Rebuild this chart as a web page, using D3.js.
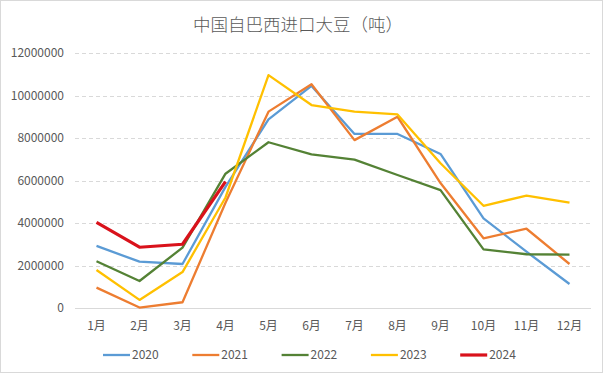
<!DOCTYPE html>
<html>
<head>
<meta charset="utf-8">
<script src="https://cdn.jsdelivr.net/npm/d3@7"></script>
<style>
  html, body { margin: 0; padding: 0; background: #fff; }
  svg { display: block; font-family: "Microsoft YaHei", "Noto Sans CJK SC", sans-serif; }
</style>
</head>
<body>
<div id="chart"></div>
<script>
// data
var months = ["1月","2月","3月","4月","5月","6月","7月","8月","9月","10月","11月","12月"];
var yTicks = [0, 2000000, 4000000, 6000000, 8000000, 10000000, 12000000];
var years = ["2020","2021","2022","2023","2024"];
var colors = ["#5b9bd5","#ed7d31","#548235","#ffc000","#d9121b"];

var v2020 = [2920000, 2180000, 2070000, 5700000, 8880000, 10450000, 8190000, 8190000, 7250000, 4220000, 2650000, 1130000];
var v2021 = [960000, 20000, 270000, 4950000, 9240000, 10530000, 7900000, 9000000, 5880000, 3280000, 3730000, 2070000];
var v2022 = [2200000, 1270000, 2840000, 6320000, 7800000, 7230000, 6980000, 6260000, 5550000, 2760000, 2530000, 2510000];
var v2023 = [1790000, 380000, 1690000, 5200000, 10960000, 9550000, 9240000, 9110000, 6810000, 4810000, 5290000, 4960000];
var v2024 = [4030000, 2860000, 3000000, 5950000];

var series = [v2020, v2021, v2022, v2023, v2024];

var width = 605, height = 374;
var margin = {top: 53, right: 14, bottom: 66, left: 75};

var svg = d3.select("#chart").append("svg")
  .attr("width", width)
  .attr("height", height);

// outer frame
svg.append("rect")
  .attr("x", 0.5).attr("y", 0.5)
  .attr("width", width - 3).attr("height", height - 2)
  .attr("fill", "#fff")
  .attr("stroke", "#d9d9d9");

svg.append("text")
  .attr("x", 298)
  .attr("y", 31)
  .attr("text-anchor", "middle")
  .attr("font-size", 17.5)
  .attr("font-weight", 300)
  .attr("fill", "#595959")
  .text("中国自巴西进口大豆（吨）");

var x = d3.scaleBand()
  .domain(months)
  .range([margin.left, width - margin.right]);

var y = d3.scaleLinear()
  .domain([0, 12000000])
  .range([height - margin.bottom, margin.top]);

// gridlines
svg.append("g")
  .selectAll("line")
  .data(yTicks.slice(1))
  .enter().append("line")
    .attr("x1", margin.left)
    .attr("x2", width - margin.right)
    .attr("y1", function(d) { return Math.round(y(d)) + 0.5; })
    .attr("y2", function(d) { return Math.round(y(d)) + 0.5; })
    .attr("stroke", "#d9d9d9")
    .attr("stroke-dasharray", "4,3");

// baseline
svg.append("line")
  .attr("x1", margin.left)
  .attr("x2", width - margin.right)
  .attr("y1", Math.round(y(0)) + 0.5)
  .attr("y2", Math.round(y(0)) + 0.5)
  .attr("stroke", "#d9d9d9");

// y axis
var yAxis = svg.append("g")
  .attr("transform", "translate(" + (margin.left - 8) + ",0)")
  .call(d3.axisLeft(y).tickValues(yTicks).tickSize(0).tickFormat(d3.format("d")));
yAxis.select(".domain").remove();
yAxis.selectAll("text")
  .attr("font-size", 12)
  .attr("fill", "#595959")
  .attr("font-family", "\"Microsoft YaHei\", \"Noto Sans CJK SC\", sans-serif");

// x axis
var xAxis = svg.append("g")
  .attr("transform", "translate(0," + (height - margin.bottom + 10) + ")")
  .call(d3.axisBottom(x).tickSize(0));
xAxis.select(".domain").remove();
xAxis.selectAll("text")
  .attr("font-size", 12)
  .attr("fill", "#595959")
  .attr("font-family", "\"Microsoft YaHei\", \"Noto Sans CJK SC\", sans-serif");

var line = d3.line()
  .x(function(d, i) { return x(months[i]) + x.bandwidth() / 2; })
  .y(function(d) { return y(d); });

svg.append("g")
  .selectAll("path")
  .data(series)
  .enter().append("path")
    .attr("d", function(d) { return line(d); })
    .attr("fill", "none")
    .attr("stroke", function(d, i) { return colors[i]; })
    .attr("stroke-width", function(d, i) { return i === 4 ? 3.2 : 2.3; })
    .attr("stroke-linejoin", "round");

// legend
var legend = svg.append("g")
  .selectAll("g")
  .data(years)
  .enter().append("g")
    .attr("transform", function(d, i) { return "translate(" + (103 + i * 89.3) + ",355)"; });

legend.append("line")
  .attr("x1", 0).attr("x2", 27)
  .attr("stroke", function(d, i) { return colors[i]; })
  .attr("stroke-width", function(d, i) { return i === 4 ? 3.2 : 2.3; });

legend.append("text")
  .attr("x", 29)
  .attr("dy", "0.35em")
  .attr("font-size", 12)
  .attr("fill", "#595959")
  .text(function(d) { return d; });
</script>
</body>
</html>
